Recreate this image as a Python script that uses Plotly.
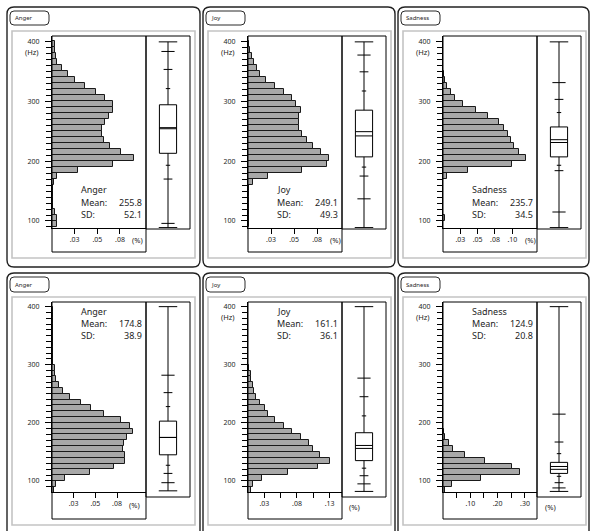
import plotly.graph_objects as go

W, H = 591, 531

# ---------------- data ----------------
panel_names = ["Anger", "Joy", "Sadness", "Anger", "Joy", "Sadness"]
panel_means = [255.8, 249.1, 235.7, 174.8, 161.1, 124.9]
panel_sds = [52.1, 49.3, 34.5, 38.9, 36.1, 20.8]
show_hz_label = [True, True, True, False, True, True]

# histogram bins (lower edge, Hz) and relative frequencies
anger_top_bins = [90, 100, 110, 120, 130, 140, 150, 160, 170, 180, 190, 200, 210, 220, 230, 240,
                  250, 260, 270, 280, 290, 300, 310, 320, 330, 340, 350, 360, 370, 380, 390]
anger_top_freq = [0.005, 0.006, 0.003, 0.001, 0.001, 0.001, 0.001, 0.002, 0.006, 0.029, 0.067,
                  0.090, 0.076, 0.064, 0.057, 0.055, 0.055, 0.059, 0.063, 0.067, 0.067, 0.059,
                  0.049, 0.036, 0.025, 0.018, 0.011, 0.006, 0.004, 0.003, 0.003]

joy_top_bins = [90, 100, 110, 120, 130, 140, 150, 160, 170, 180, 190, 200, 210, 220, 230, 240,
                250, 260, 270, 280, 290, 300, 310, 320, 330, 340, 350, 360, 370, 380, 390]
joy_top_freq = [0.001, 0.001, 0.001, 0.001, 0.0008, 0.0008, 0.001, 0.005, 0.022, 0.059, 0.086,
                0.088, 0.079, 0.070, 0.064, 0.059, 0.055, 0.055, 0.055, 0.057, 0.052, 0.048,
                0.039, 0.029, 0.019, 0.013, 0.010, 0.006, 0.004, 0.002, 0.001]

sadness_top_bins = [100, 110, 120, 130, 140, 150, 160, 170, 180, 190, 200, 210, 220, 230, 240,
                    250, 260, 270, 280, 290, 300, 310, 320, 330, 340]
sadness_top_freq = [0.0025, 0.0005, 0.0003, 0.0003, 0.0003, 0.0003, 0.0005, 0.006, 0.036, 0.099,
                    0.120, 0.109, 0.102, 0.098, 0.094, 0.088, 0.081, 0.065, 0.047, 0.029, 0.017,
                    0.011, 0.006, 0.003, 0.0015]

anger_bot_bins = [80, 90, 100, 110, 120, 130, 140, 150, 160, 170, 180, 190, 200, 210, 220, 230,
                  240, 250, 260, 270, 280, 290, 300, 310, 320, 330, 340, 350, 360, 370, 380, 390]
anger_bot_freq = [0.002, 0.005, 0.015, 0.044, 0.071, 0.084, 0.084, 0.082, 0.083, 0.087, 0.093,
                  0.090, 0.079, 0.060, 0.045, 0.033, 0.021, 0.013, 0.008, 0.005, 0.004, 0.003,
                  0.001, 0.001, 0.001, 0.001, 0.001, 0.001, 0.001, 0.001, 0.001, 0.001]

joy_bot_bins = [80, 90, 100, 110, 120, 130, 140, 150, 160, 170, 180, 190, 200, 210, 220, 230,
                240, 250, 260, 270, 280, 290]
joy_bot_freq = [0.004, 0.008, 0.021, 0.062, 0.107, 0.125, 0.111, 0.099, 0.093, 0.081, 0.067,
                0.055, 0.042, 0.031, 0.026, 0.018, 0.013, 0.009, 0.007, 0.005, 0.004, 0.002]

sadness_bot_bins = [80, 90, 100, 110, 120, 130, 140, 150, 160, 170, 180]
sadness_bot_freq = [0.006, 0.033, 0.138, 0.281, 0.253, 0.155, 0.082, 0.037, 0.021, 0.009, 0.004]

# quantile box plot: min, 0.5%, 2.5%, 10%, 25%, median, 75%, 90%, 97.5%, 99.5%, max
anger_top_q = [89, 96, 170, 193, 213, 254, 294, 321, 353, 383, 399]
joy_top_q = [89, 137, 175, 190, 207, 242, 285, 317, 349, 377, 399]
sadness_top_q = [89, 115, 184, 193, 207, 231, 257, 281, 303, 331, 399]
anger_bot_q = [83, 97, 113, 127, 145, 175, 203, 228, 252, 282, 400]
joy_bot_q = [82, 95, 109, 122, 135, 156, 183, 212, 245, 277, 400]
sadness_bot_q = [82, 88, 97, 108, 113, 120, 132, 147, 167, 215, 400]

# frequency-axis ticks
anger_top_xticks = [0.025, 0.05, 0.075]
anger_top_xtext = [".03", ".05", ".08"]
joy_top_xticks = [0.025, 0.05, 0.075]
joy_top_xtext = [".03", ".05", ".08"]
sadness_top_xticks = [0.025, 0.05, 0.075, 0.1]
sadness_top_xtext = [".03", ".05", ".08", ".10"]
anger_bot_xticks = [0.025, 0.05, 0.075]
anger_bot_xtext = [".03", ".05", ".08"]
joy_bot_xticks = [0.025, 0.05, 0.075, 0.1, 0.125]
joy_bot_xtext = [".03", "", ".08", "", ".13"]
sadness_bot_xticks = [0.05, 0.1, 0.15, 0.2, 0.25, 0.3]
sadness_bot_xtext = ["", ".10", "", ".20", "", ".30"]
hz_ticks = [100, 200, 300, 400]
hz_text = ["100", "200", "300", "400"]

bins_list = [anger_top_bins, joy_top_bins, sadness_top_bins, anger_bot_bins, joy_bot_bins, sadness_bot_bins]
freq_list = [anger_top_freq, joy_top_freq, sadness_top_freq, anger_bot_freq, joy_bot_freq, sadness_bot_freq]
q_list = [anger_top_q, joy_top_q, sadness_top_q, anger_bot_q, joy_bot_q, sadness_bot_q]
xt_list = [anger_top_xticks, joy_top_xticks, sadness_top_xticks, anger_bot_xticks, joy_bot_xticks, sadness_bot_xticks]
xtt_list = [anger_top_xtext, joy_top_xtext, sadness_top_xtext, anger_bot_xtext, joy_bot_xtext, sadness_bot_xtext]

# ---------------- layout geometry (pixels) ----------------
col_left = [7, 203, 398]
col_width = [193, 192, 191]
x_max = [0.1037, 0.102, 0.1356, 0.1084, 0.144, 0.344]
rows = [
    dict(top=7, bottom=267, tag0=11, tag1=25, gray0=31, gray1=258, plot0=36, axis=228,
         box1=229, hist1=252, yrange=[88.3, 408.8], text_y=[190, 202, 214]),
    dict(top=273, bottom=560, tag0=277, tag1=292, gray0=297, gray1=525, plot0=302, axis=492,
         box1=497, hist1=519, yrange=[81, 408], text_y=[311, 323, 335]),
]
pct_pos = [(130, 240), (132, 240), (132, 240), (127, 505), (151, 507), (152, 507)]


def X(p):
    return p / W


def Y(p):
    return 1 - p / H


def rrect(x0, y0, x1, y1, r):
    return (f"M {X(x0 + r)},{Y(y0)} L {X(x1 - r)},{Y(y0)} Q {X(x1)},{Y(y0)} {X(x1)},{Y(y0 + r)} "
            f"L {X(x1)},{Y(y1 - r)} Q {X(x1)},{Y(y1)} {X(x1 - r)},{Y(y1)} "
            f"L {X(x0 + r)},{Y(y1)} Q {X(x0)},{Y(y1)} {X(x0)},{Y(y1 - r)} "
            f"L {X(x0)},{Y(y0 + r)} Q {X(x0)},{Y(y0)} {X(x0 + r)},{Y(y0)} Z")


FONT = "Noto Sans, Lato, sans-serif"
TXT = "#1e1e1e"
fig = go.Figure()
shapes = []
annotations = []
layout_axes = {}

cap_half = [0.42, 0.3, 0.2, 0.1, None, None, None, 0.1, 0.2, 0.3, 0.42]
box_half = 0.39

for i in range(6):
    r = rows[i // 3]
    L = col_left[i % 3]
    Wd = col_width[i % 3]
    hx0, hx1 = L + 45, L + 139
    bx0, bx1 = L + 139, L + 183
    hi = 2 * i + 1
    bi = 2 * i + 2
    xa_h = "x" if hi == 1 else f"x{hi}"
    ya_h = "y" if hi == 1 else f"y{hi}"
    xa_b, ya_b = f"x{bi}", f"y{bi}"
    ydom = [Y(r["axis"]), Y(r["plot0"])]

    layout_axes["xaxis" if hi == 1 else f"xaxis{hi}"] = dict(
        domain=[X(hx0), X(hx1)], range=[0, x_max[i]], anchor=ya_h,
        showline=True, linecolor="black", linewidth=1, ticks="outside", ticklen=5,
        tickcolor="black", tickwidth=1, tickvals=xt_list[i], ticktext=xtt_list[i],
        tickfont=dict(size=7, color=TXT, family=FONT), showgrid=False, zeroline=False,
        fixedrange=True)
    layout_axes["yaxis" if hi == 1 else f"yaxis{hi}"] = dict(
        domain=ydom, range=r["yrange"], anchor=xa_h,
        showline=True, linecolor="black", linewidth=1, ticks="outside", ticklen=6,
        tickcolor="black", tickwidth=1, tickvals=hz_ticks, ticktext=hz_text,
        tickfont=dict(size=7, color=TXT, family=FONT), ticklabelstandoff=4,
        minor=dict(ticks="outside", dtick=10, tick0=0, ticklen=5, tickcolor="black", tickwidth=1),
        showgrid=False, zeroline=False, fixedrange=True)
    layout_axes[f"xaxis{bi}"] = dict(domain=[X(bx0), X(bx1)], range=[-1, 1], anchor=ya_b,
                                      visible=False, fixedrange=True)
    layout_axes[f"yaxis{bi}"] = dict(domain=ydom, range=r["yrange"], anchor=xa_b,
                                      visible=False, fixedrange=True)

    # histogram bars
    fig.add_trace(go.Bar(
        orientation="h", y=[b + 5 for b in bins_list[i]], x=freq_list[i], width=10,
        marker=dict(color="#a8a8a8", line=dict(color="#1a1a1a", width=1)),
        xaxis=xa_h, yaxis=ya_h, hoverinfo="skip"))

    # quantile box plot
    q = q_list[i]
    fig.add_trace(go.Scatter(x=[0, 0], y=[q[0], q[10]], mode="lines",
                             line=dict(color="black", width=1), xaxis=xa_b, yaxis=ya_b,
                             hoverinfo="skip"))
    cx, cy = [], []
    for k, hw in enumerate(cap_half):
        if hw is None:
            continue
        cx += [-hw, hw, None]
        cy += [q[k], q[k], None]
    fig.add_trace(go.Scatter(x=cx, y=cy, mode="lines", line=dict(color="black", width=1),
                             xaxis=xa_b, yaxis=ya_b, hoverinfo="skip"))
    fig.add_trace(go.Scatter(x=[-box_half, box_half, box_half, -box_half, -box_half],
                             y=[q[4], q[4], q[6], q[6], q[4]], mode="lines", fill="toself",
                             fillcolor="white", line=dict(color="black", width=1),
                             xaxis=xa_b, yaxis=ya_b, hoverinfo="skip"))
    fig.add_trace(go.Scatter(x=[-box_half, box_half, None, -box_half, box_half],
                             y=[q[5], q[5], None, panel_means[i], panel_means[i]], mode="lines",
                             line=dict(color="black", width=1), xaxis=xa_b, yaxis=ya_b,
                             hoverinfo="skip"))

    # frames
    shapes.append(dict(type="path", path=rrect(L, r["top"], L + Wd, r["bottom"], 7),
                       xref="paper", yref="paper", line=dict(color="#222222", width=1.4)))
    shapes.append(dict(type="path", path=rrect(L + 3, r["tag0"], L + 42, r["tag1"], 4),
                       xref="paper", yref="paper", line=dict(color="#2a2a2a", width=1)))
    shapes.append(dict(type="rect", x0=X(L + 5), x1=X(L + 188), y0=Y(r["gray1"]), y1=Y(r["gray0"]),
                       xref="paper", yref="paper", line=dict(color="#c4c4c4", width=1.6)))
    shapes.append(dict(type="rect", x0=X(hx0), x1=X(hx1), y0=Y(r["hist1"]), y1=Y(r["plot0"]),
                       xref="paper", yref="paper", line=dict(color="black", width=1)))
    shapes.append(dict(type="rect", x0=X(bx0), x1=X(bx1), y0=Y(r["box1"]), y1=Y(r["plot0"]),
                       xref="paper", yref="paper", line=dict(color="black", width=1)))

    # tag text
    annotations.append(dict(text=panel_names[i], x=X(L + 6), y=Y((r["tag0"] + r["tag1"]) / 2),
                            xref="paper", yref="paper", xanchor="left", yanchor="middle",
                            showarrow=False, font=dict(size=6, color=TXT, family=FONT)))
    # stats text
    tl, tr = L + 73, L + 136
    ty = r["text_y"]
    for txt, yy in zip([panel_names[i], "Mean:", "SD:"], ty):
        annotations.append(dict(text=txt, x=X(tl), y=Y(yy), xref="paper", yref="paper",
                                xanchor="left", yanchor="middle", showarrow=False, borderpad=0,
                                font=dict(size=9, color=TXT, family=FONT)))
    for val, yy in zip([panel_means[i], panel_sds[i]], ty[1:]):
        annotations.append(dict(text=f"{val:.1f}", x=X(tr), y=Y(yy), xref="paper", yref="paper",
                                xanchor="right", yanchor="middle", showarrow=False, borderpad=0,
                                font=dict(size=9, color=TXT, family=FONT)))
    # (Hz) label
    if show_hz_label[i]:
        y400 = r["axis"] - (400 - r["yrange"][0]) / (r["yrange"][1] - r["yrange"][0]) * (r["axis"] - r["plot0"])
        annotations.append(dict(text="(Hz)", x=X(L + 34), y=Y(y400 + 10.7), xref="paper", yref="paper",
                                xanchor="right", yanchor="middle", showarrow=False,
                                font=dict(size=7.5, color=TXT, family=FONT)))
    # (%) label
    px, py = pct_pos[i]
    annotations.append(dict(text="(%)", x=X(L + px), y=Y(py), xref="paper", yref="paper",
                            xanchor="center", yanchor="middle", showarrow=False,
                            font=dict(size=7.5, color=TXT, family=FONT)))

fig.update_layout(
    width=W, height=H, margin=dict(l=0, r=0, t=0, b=0),
    paper_bgcolor="white", plot_bgcolor="white", showlegend=False,
    bargap=0, shapes=shapes, annotations=annotations, hovermode=False,
    **layout_axes)

fig.write_html("out.html", config={"displayModeBar": False},
               post_script="document.body.style.margin='0px';")
